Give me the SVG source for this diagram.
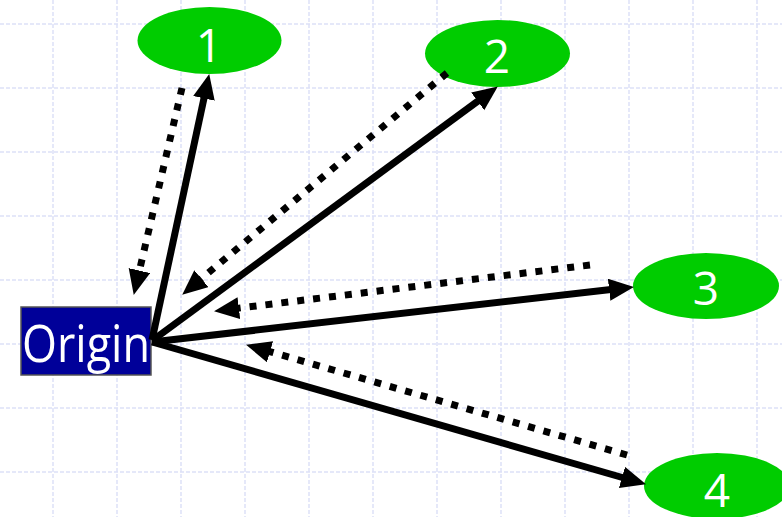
<svg xmlns="http://www.w3.org/2000/svg" width="782" height="517" viewBox="0 0 782 517">
<style>
.grid{stroke:#dde1f7;stroke-width:1.5;stroke-dasharray:4 2;fill:none}
.node ellipse{fill:#00cc00}
.num{font-family:"Open Sans","Liberation Sans",Arial,sans-serif;font-size:46px;fill:#ffffff;text-anchor:middle}
.solid{stroke:#000;stroke-width:7;fill:none;marker-end:url(#head)}
.dot{stroke:#000;stroke-width:7;stroke-dasharray:7 9;fill:none;marker-end:url(#head)}
</style>
<defs>
<marker id="head" markerUnits="userSpaceOnUse" markerWidth="28" markerHeight="24" refX="4" refY="11" orient="auto">
<path d="M0,0 L25,11 L0,22 z" fill="#000"/>
</marker>
</defs>
<rect width="782" height="517" fill="#ffffff"/>
<path class="grid" d="M53,0V517M117,0V517M181,0V517M245,0V517M309,0V517M373,0V517M437,0V517M501,0V517M565,0V517M629,0V517M693,0V517M757,0V517M0,24H782M0,88H782M0,152H782M0,216H782M0,280H782M0,344H782M0,408H782M0,472H782"/>
<g id="origin" class="node">
<rect x="21" y="307" width="130" height="68" fill="#000099" stroke="#555" stroke-width="1.5"/>
<text x="22" y="362" font-family="'Open Sans','Liberation Sans',Arial,sans-serif" font-size="52" fill="#fff" textLength="128" lengthAdjust="spacingAndGlyphs">Origin</text>
</g>
<g id="n1" class="node"><ellipse cx="209.5" cy="40.5" rx="72" ry="33.5"/><text class="num" x="209" y="62">1</text></g>
<g id="n2" class="node"><ellipse cx="497.5" cy="53.5" rx="72.5" ry="33.5"/><text class="num" x="497" y="73">2</text></g>
<g id="n3" class="node"><ellipse cx="706" cy="286" rx="73" ry="33"/><text class="num" x="706" y="305">3</text></g>
<g id="n4" class="node"><ellipse cx="717" cy="486" rx="73" ry="33"/><text class="num" x="717" y="507">4</text></g>
<g id="connectors">
<line class="solid" x1="152" y1="340" x2="204.8" y2="94.5"/>
<line class="solid" x1="153" y1="340" x2="480.9" y2="98.9"/>
<line class="solid" x1="152" y1="342" x2="613.1" y2="289.3"/>
<line class="solid" x1="152" y1="342" x2="625.8" y2="478.5"/>
<line class="dot" x1="182" y1="88" x2="138.5" y2="274.5"/>
<line class="dot" x1="447" y1="73" x2="198.3" y2="281.2"/>
<line class="dot" x1="590" y1="265" x2="234.9" y2="308.6"/>
<line class="dot" x1="627" y1="455" x2="266.2" y2="350.6"/>
</g>
</svg>
